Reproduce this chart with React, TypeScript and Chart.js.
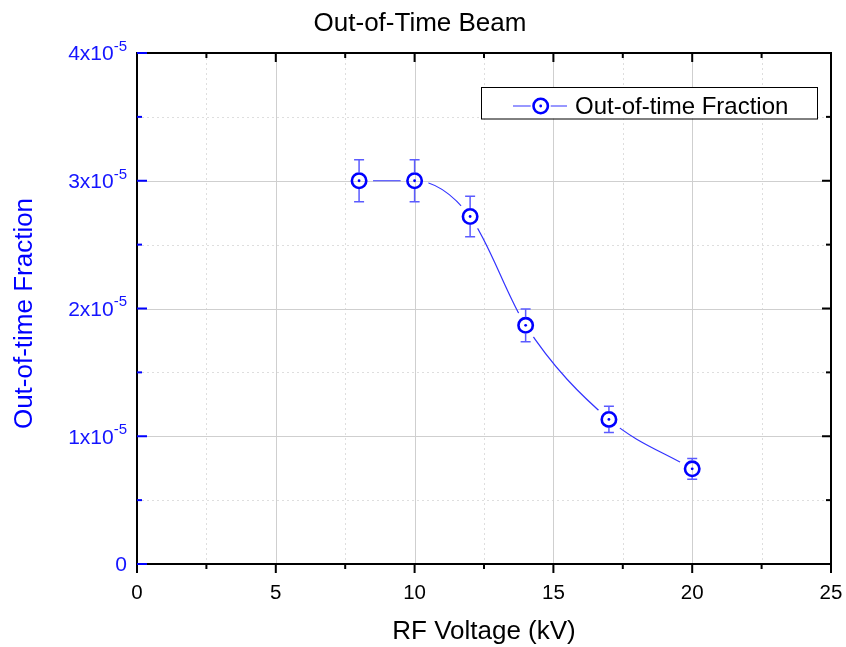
import React, { useEffect, useRef } from 'react';
import { Chart, registerables } from 'chart.js';

Chart.register(...registerables);

// ---- data ----
const voltages = [8, 10, 12, 14, 17, 20];
const fractions = [3.0e-5, 3.0e-5, 2.72e-5, 1.868e-5, 1.132e-5, 0.745e-5];
const fractionErrors = [0.165e-5, 0.165e-5, 0.158e-5, 0.128e-5, 0.103e-5, 0.081e-5];

const xMajorTicks = [0, 5, 10, 15, 20, 25];
const xMinorTicks = [2.5, 7.5, 12.5, 17.5, 22.5];
const xTickLabels = ['0', '5', '10', '15', '20', '25'];
const yMajorTicks = [0, 1e-5, 2e-5, 3e-5, 4e-5];
const yMinorTicks = [0.5e-5, 1.5e-5, 2.5e-5, 3.5e-5];
const yTickMantissa = ['0', '1x10', '2x10', '3x10', '4x10'];
const yTickExponent = ['', '-5', '-5', '-5', '-5'];

const titleText = 'Out-of-Time Beam';
const xTitle = 'RF Voltage (kV)';
const yTitle = 'Out-of-time Fraction';
const seriesLabel = 'Out-of-time Fraction';

const FONT = 'Arial, "Liberation Sans", sans-serif';
const BLUE = '#0000ff';
const LINE_BLUE = '#3333ff';
const ERR_BLUE = '#5b5bff';
const LABEL_BLUE = '#1414ff';
const MARKER_R = 7.2;
const GAP_R = 14;

function drawMarker(ctx: CanvasRenderingContext2D, x: number, y: number) {
  ctx.save();
  ctx.strokeStyle = BLUE;
  ctx.lineWidth = 2.6;
  ctx.beginPath();
  ctx.arc(x, y, MARKER_R, 0, Math.PI * 2);
  ctx.stroke();
  ctx.fillStyle = BLUE;
  ctx.beginPath();
  ctx.arc(x, y, 1.4, 0, Math.PI * 2);
  ctx.fill();
  ctx.restore();
}

const decorPlugin = {
  id: 'decor',
  beforeDatasetsDraw(chart: any) {
    const { ctx, chartArea: a, scales } = chart;
    const xs = scales.x;
    const ys = scales.y;
    ctx.save();
    // minor grid (dotted)
    ctx.strokeStyle = '#dedede';
    ctx.lineWidth = 1;
    ctx.setLineDash([2, 3]);
    xMinorTicks.forEach((v) => {
      const px = Math.round(xs.getPixelForValue(v)) + 0.5;
      ctx.beginPath();
      ctx.moveTo(px, a.top);
      ctx.lineTo(px, a.bottom);
      ctx.stroke();
    });
    yMinorTicks.forEach((v) => {
      const py = Math.round(ys.getPixelForValue(v)) + 0.5;
      ctx.beginPath();
      ctx.moveTo(a.left, py);
      ctx.lineTo(a.right, py);
      ctx.stroke();
    });
    // major grid (solid)
    ctx.setLineDash([]);
    ctx.strokeStyle = '#cfcfcf';
    xMajorTicks.forEach((v) => {
      const px = Math.round(xs.getPixelForValue(v)) + 0.5;
      ctx.beginPath();
      ctx.moveTo(px, a.top);
      ctx.lineTo(px, a.bottom);
      ctx.stroke();
    });
    yMajorTicks.forEach((v) => {
      const py = Math.round(ys.getPixelForValue(v)) + 0.5;
      ctx.beginPath();
      ctx.moveTo(a.left, py);
      ctx.lineTo(a.right, py);
      ctx.stroke();
    });
    ctx.restore();
  },
  beforeDatasetDraw(chart: any, args: any) {
    if (args.index !== 0) return;
    const { ctx, chartArea: a, scales } = chart;
    ctx.save();
    ctx.beginPath();
    ctx.rect(a.left, a.top, a.right - a.left, a.bottom - a.top);
    voltages.forEach((v, i) => {
      const px = scales.x.getPixelForValue(v);
      const py = scales.y.getPixelForValue(fractions[i]);
      ctx.moveTo(px + GAP_R, py);
      ctx.arc(px, py, GAP_R, 0, Math.PI * 2);
    });
    ctx.clip('evenodd');
  },
  afterDatasetDraw(chart: any, args: any) {
    if (args.index !== 0) return;
    chart.ctx.restore();
  },
  afterDatasetsDraw(chart: any) {
    const { ctx, chartArea: a, scales } = chart;
    const xs = scales.x;
    const ys = scales.y;
    ctx.save();

    // error bars
    ctx.strokeStyle = ERR_BLUE;
    ctx.lineWidth = 1.5;
    voltages.forEach((v, i) => {
      const px = xs.getPixelForValue(v);
      const py = ys.getPixelForValue(fractions[i]);
      const pTop = ys.getPixelForValue(fractions[i] + fractionErrors[i]);
      const pBot = ys.getPixelForValue(fractions[i] - fractionErrors[i]);
      ctx.beginPath();
      ctx.moveTo(px, pTop);
      ctx.lineTo(px, py - MARKER_R - 1);
      ctx.moveTo(px, py + MARKER_R + 1);
      ctx.lineTo(px, pBot);
      ctx.moveTo(px - 5, pTop);
      ctx.lineTo(px + 5, pTop);
      ctx.moveTo(px - 5, pBot);
      ctx.lineTo(px + 5, pBot);
      ctx.stroke();
    });
    // centre dots
    voltages.forEach((v, i) => {
      const px = xs.getPixelForValue(v);
      const py = ys.getPixelForValue(fractions[i]);
      ctx.fillStyle = BLUE;
      ctx.beginPath();
      ctx.arc(px, py, 1.4, 0, Math.PI * 2);
      ctx.fill();
    });

    // frame
    ctx.strokeStyle = '#000';
    ctx.lineWidth = 2;
    ctx.strokeRect(a.left, a.top, a.right - a.left, a.bottom - a.top);

    // x ticks: bottom outward, top inward
    const tickX = (vals: number[], len: number) => {
      vals.forEach((v) => {
        const px = xs.getPixelForValue(v);
        ctx.beginPath();
        ctx.moveTo(px, a.bottom);
        ctx.lineTo(px, a.bottom + len);
        ctx.moveTo(px, a.top);
        ctx.lineTo(px, a.top + len);
        ctx.stroke();
      });
    };
    tickX(xMajorTicks, 9);
    tickX(xMinorTicks, 5);

    // right ticks (black, inward)
    const tickYR = (vals: number[], len: number) => {
      vals.forEach((v) => {
        const py = ys.getPixelForValue(v);
        ctx.beginPath();
        ctx.moveTo(a.right, py);
        ctx.lineTo(a.right - len, py);
        ctx.stroke();
      });
    };
    tickYR(yMajorTicks, 9);
    tickYR(yMinorTicks, 5);

    // left ticks (blue, inward)
    ctx.strokeStyle = BLUE;
    const tickYL = (vals: number[], len: number) => {
      vals.forEach((v) => {
        const py = ys.getPixelForValue(v);
        ctx.beginPath();
        ctx.moveTo(a.left, py);
        ctx.lineTo(a.left + len, py);
        ctx.stroke();
      });
    };
    tickYL(yMajorTicks, 10);
    tickYL(yMinorTicks, 5);

    // x tick labels
    ctx.fillStyle = '#000';
    ctx.font = `20.5px ${FONT}`;
    ctx.textAlign = 'center';
    ctx.textBaseline = 'alphabetic';
    xMajorTicks.forEach((v, i) => {
      ctx.fillText(xTickLabels[i], xs.getPixelForValue(v), a.bottom + 34.5);
    });

    // y tick labels with superscript
    ctx.fillStyle = LABEL_BLUE;
    ctx.textAlign = 'left';
    const rightEdge = a.left - 10;
    yMajorTicks.forEach((v, i) => {
      const py = ys.getPixelForValue(v);
      ctx.font = `15px ${FONT}`;
      const wS = yTickExponent[i] ? ctx.measureText(yTickExponent[i]).width : 0;
      ctx.font = `21px ${FONT}`;
      const wM = ctx.measureText(yTickMantissa[i]).width;
      const base = py + 7.4;
      ctx.fillText(yTickMantissa[i], rightEdge - wS - wM, base);
      if (yTickExponent[i]) {
        ctx.font = `15px ${FONT}`;
        ctx.fillText(yTickExponent[i], rightEdge - wS, base - 9.5);
      }
    });

    // axis titles
    ctx.fillStyle = '#000';
    ctx.font = `26px ${FONT}`;
    ctx.textAlign = 'center';
    ctx.fillText(xTitle, (a.left + a.right) / 2, 638.5);

    ctx.save();
    ctx.fillStyle = BLUE;
    ctx.translate(31.5, 313.5);
    ctx.rotate(-Math.PI / 2);
    ctx.font = `26px ${FONT}`;
    ctx.textAlign = 'center';
    ctx.fillText(yTitle, 0, 0);
    ctx.restore();

    // chart title
    ctx.fillStyle = '#000';
    ctx.font = `26px ${FONT}`;
    ctx.textAlign = 'center';
    ctx.fillText(titleText, 420, 31);

    // legend
    const lx = 481, ly = 87, lw = 336, lh = 31.5;
    ctx.fillStyle = '#fff';
    ctx.fillRect(lx, ly, lw, lh);
    ctx.strokeStyle = '#000';
    ctx.lineWidth = 1;
    ctx.strokeRect(lx + 0.5, ly + 0.5, lw, lh);
    const my = 106;
    const mx = 540.7;
    ctx.strokeStyle = LINE_BLUE;
    ctx.lineWidth = 1.2;
    ctx.beginPath();
    ctx.moveTo(513, my);
    ctx.lineTo(mx - 10, my);
    ctx.moveTo(mx + 10, my);
    ctx.lineTo(567, my);
    ctx.stroke();
    drawMarker(ctx, mx, my);
    ctx.fillStyle = '#000';
    ctx.font = `24px ${FONT}`;
    ctx.textAlign = 'left';
    ctx.fillText(seriesLabel, 575, 114);

    ctx.restore();
  },
};

export default function App() {
  const canvasRef = useRef<HTMLCanvasElement | null>(null);

  useEffect(() => {
    const canvas = canvasRef.current;
    if (!canvas) return;
    const chart = new Chart(canvas, {
      type: 'scatter',
      data: {
        datasets: [
          {
            label: seriesLabel + ' line',
            data: voltages.map((v, i) => ({ x: v, y: fractions[i] })),
            showLine: true,
            borderColor: LINE_BLUE,
            borderWidth: 1.2,
            pointRadius: 0,
            pointHoverRadius: 0,
            cubicInterpolationMode: 'monotone',
            fill: false,
          },
          {
            label: seriesLabel,
            data: voltages.map((v, i) => ({ x: v, y: fractions[i] })),
            showLine: false,
            pointRadius: MARKER_R,
            pointHoverRadius: MARKER_R,
            pointBorderWidth: 2.6,
            pointBorderColor: BLUE,
            pointBackgroundColor: 'rgba(0,0,0,0)',
            borderColor: BLUE,
          },
        ],
      } as any,
      options: {
        responsive: false,
        animation: false,
        events: [],
        layout: { padding: { top: 53, right: 15, left: 0, bottom: 0 } },
        plugins: {
          legend: { display: false },
          title: { display: false },
          tooltip: { enabled: false },
        },
        scales: {
          x: {
            type: 'linear',
            min: 0,
            max: 25,
            ticks: { display: false },
            grid: { display: false, drawTicks: false },
            border: { display: false },
            afterFit: (s: any) => {
              s.height = 83;
            },
          },
          y: {
            type: 'linear',
            min: 0,
            max: 4e-5,
            ticks: { display: false },
            grid: { display: false, drawTicks: false },
            border: { display: false },
            afterFit: (s: any) => {
              s.width = 137;
            },
          },
        },
      } as any,
      plugins: [decorPlugin as any],
    });
    return () => chart.destroy();
  }, []);

  return (
    <div style={{ position: 'fixed', left: 0, top: 0, width: 846, height: 647, background: '#fff' }}>
      <canvas ref={canvasRef} width={846} height={647} style={{ display: 'block' }} />
    </div>
  );
}
